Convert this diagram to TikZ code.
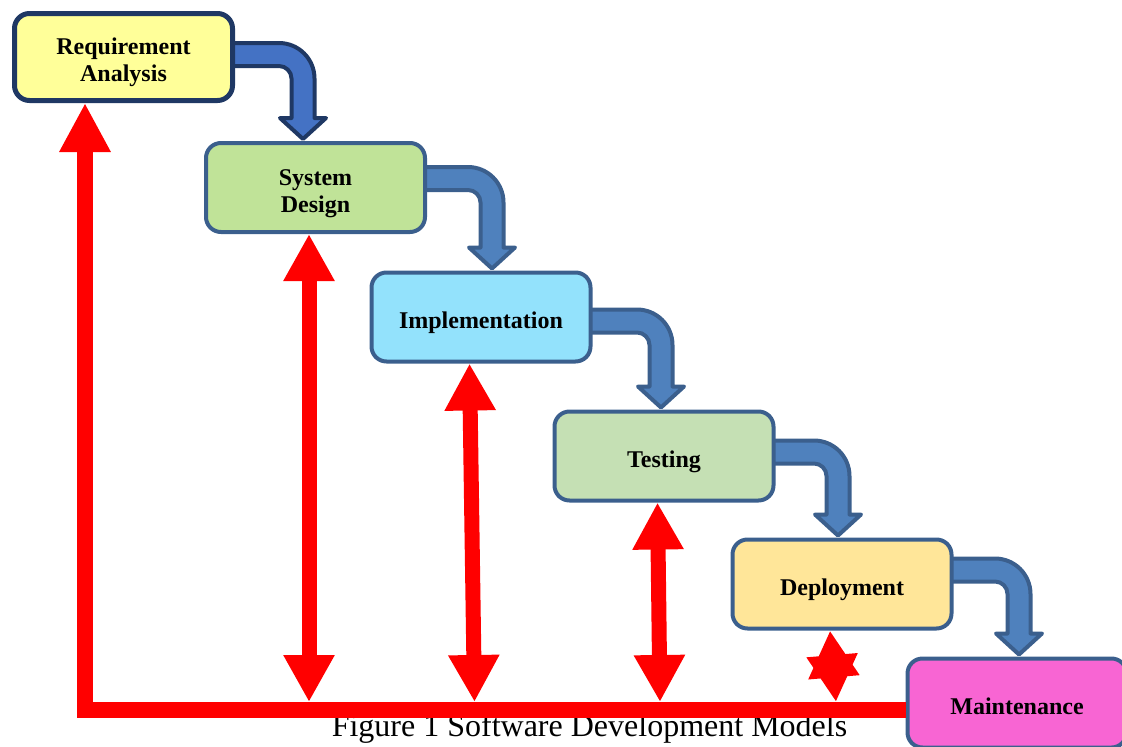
\documentclass[tikz,border=0pt]{standalone}
\usepackage{fontspec}
\setmainfont{Liberation Serif}
\usetikzlibrary{arrows.meta,calc,backgrounds}
\definecolor{redA}{HTML}{FF0000}
\definecolor{bordA}{HTML}{1F3864}
\definecolor{bordB}{HTML}{3B5F8D}
\definecolor{arrA}{HTML}{4472C4}
\definecolor{arrB}{HTML}{4F81BD}
\definecolor{fRA}{HTML}{FFFF99}
\definecolor{fSD}{HTML}{C0E398}
\definecolor{fIM}{HTML}{93E2FC}
\definecolor{fTS}{HTML}{C5E0B4}
\definecolor{fDP}{HTML}{FFE699}
\definecolor{fMT}{HTML}{F865D3}
\newcommand\btext[1]{\raisebox{-5.8pt}[\height][\depth]{\begin{tabular}{@{}c@{}}#1\end{tabular}}}
\newcommand\bentarrow[6]{% #1 from, #2 to, #3 dy, #4 dx, #5 fill, #6 draw
  \coordinate (A) at ($(#1.east)+(-8,#3)$);
  \coordinate (T) at ($(#2.north)+(#4,-2)$);
  \coordinate (C) at (T |- A);
  \draw[fill=#5, draw=#6, line width=4pt, line join=round]
    ($(A)+(0,-11.5)$) -- ($(C)+(-24,-11.5)$)
    .. controls ($(C)+(-4.4,-11.5)$) and ($(C)+(11.5,4.4)$) .. ($(C)+(11.5,24)$)
    -- ($(T)+(11.5,-21)$) -- ($(T)+(23,-21)$) -- (T) -- ($(T)+(-23,-21)$) -- ($(T)+(-11.5,-21)$)
    -- ($(C)+(-11.5,24)$)
    .. controls ($(C)+(-11.5,17.1)$) and ($(C)+(-17.1,11.5)$) .. ($(C)+(-24,11.5)$)
    -- ($(A)+(0,11.5)$) -- cycle;
}
\tikzset{
  box/.style={draw=bordB, line width=4pt, rounded corners=15pt, minimum width=219pt,
    minimum height=89pt, align=center, inner sep=0pt,
    font=\bfseries\fontsize{24}{27}\selectfont},
  redline/.style={draw=redA, line width=16pt},
  dbl/.style={draw=redA, line width=15pt,
    {Triangle[width=48pt,length=47pt]}-{Triangle[width=48pt,length=47pt]}},
}
\begin{document}
\begin{tikzpicture}[x=1pt,y=-1pt]
\useasboundingbox (0,0) rectangle (1122,747);
\clip (0,0) rectangle (1122,747);
% boxes
\node[box, draw=bordA, line width=5pt, fill=fRA, minimum width=218pt, minimum height=87pt] (ra) at (123.5,57) {\btext{Requirement\\Analysis}};
\node[box, fill=fSD] (sd) at (315.5,187.5) {\btext{System\\Design}};
\node[box, fill=fIM] (im) at (481,317) {\btext{Implementation}};
\node[box, fill=fTS] (ts) at (664,456) {\btext{Testing}};
\node[box, fill=fDP] (dp) at (842,584) {\btext{Deployment}};
\node[box, fill=fMT] (mt) at (1017,703) {\btext{Maintenance}};
% blue flow arrows
\begin{pgfonlayer}{background}
\bentarrow{ra}{sd}{-2.5}{-12.5}{arrA}{bordA}
\bentarrow{sd}{im}{-9}{11}{arrB}{bordB}
\bentarrow{im}{ts}{4}{-3}{arrB}{bordB}
\bentarrow{ts}{dp}{-4}{-4}{arrB}{bordB}
\bentarrow{dp}{mt}{-14}{2}{arrB}{bordB}
\end{pgfonlayer}
% caption
\node[anchor=base, font=\fontsize{32}{36}\selectfont, inner sep=0pt] (cap) at (589.5,736) {Figure 1 Software Development Models};
% red feedback arrows
\coordinate (lc) at (85,709.5);
\draw[redline, line join=miter, -{Triangle[width=48pt,length=49pt]}] (mt.west |- lc) -- (lc) -- (lc |- ra.south);
\coordinate (b1) at (309,702);
\coordinate (b2) at (474.5,702);
\coordinate (b3) at (660,702);
\coordinate (b4) at (836,702);
\draw[dbl] (sd.south -| b1) -- (b1);
\draw[dbl] ($(im.south)+(-11.5,0)$) -- (b2);
\draw[dbl] ($(ts.south)+(-6.5,0)$) -- (b3);
\draw[dbl] ($(dp.south)+(-12,0)$) -- (b4);
\end{tikzpicture}
\end{document}
